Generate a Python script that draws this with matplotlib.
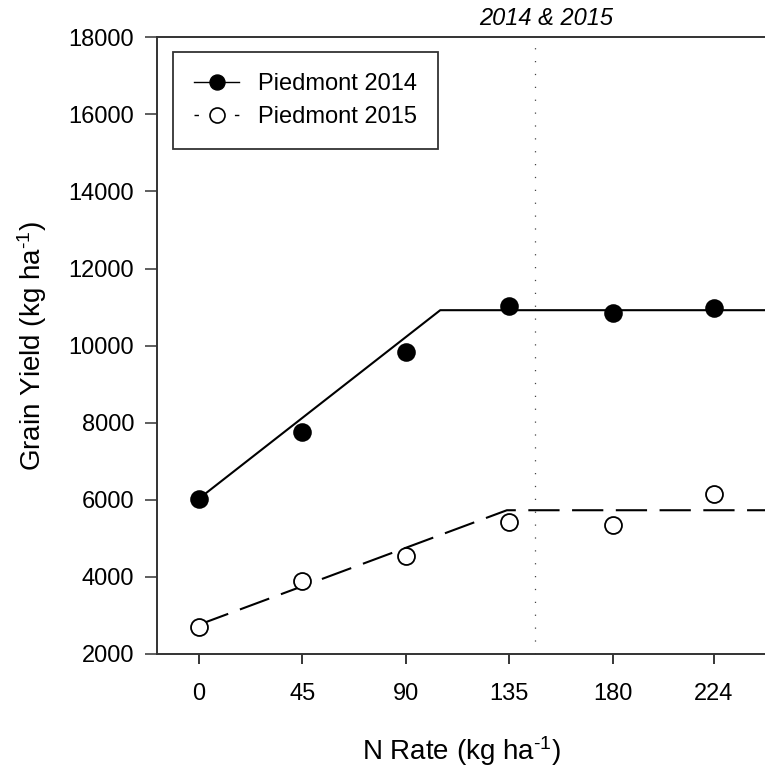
import matplotlib
matplotlib.use("Agg")
import matplotlib.pyplot as plt
from matplotlib.lines import Line2D

plt.rcParams['font.family'] = ['Liberation Sans', 'DejaVu Sans']
plt.rcParams['mathtext.fontset'] = 'custom'
plt.rcParams['mathtext.rm'] = 'Liberation Sans'
plt.rcParams['mathtext.it'] = 'Liberation Sans:italic'

# ---- data ----
n_rate = [0, 45, 90, 135, 180, 224]
x_tick_labels = ['0', '45', '90', '135', '180', '224']
yield_2014 = [6030, 7760, 9830, 11030, 10850, 10970]
yield_2015 = [2690, 3900, 4540, 5420, 5350, 6140]
# linear-plateau fits
fit_2014_x = [0, 105, 250]
fit_2014_y = [6030, 10920, 10920]
fit_2015_x = [0, 134, 250]
fit_2015_y = [2760, 5730, 5730]
optimum_n = 146.4
y_ticks = [2000, 4000, 6000, 8000, 10000, 12000, 14000, 16000, 18000]

W, H = 765, 771
fig = plt.figure(figsize=(W / 100, H / 100), dpi=100)
ax = fig.add_axes([157.3 / W, (H - 654) / H, 1.0 - 157.3 / W, (654 - 37.3) / H])

ax.set_xlim(-18.1, 246.3)
ax.set_ylim(2000, 18000)

# fitted lines
ax.plot(fit_2014_x, fit_2014_y, color='black', lw=1.5, solid_capstyle='butt', zorder=2)
ax.plot(fit_2015_x, fit_2015_y, color='black', lw=1.5, dashes=(15, 6), zorder=2)

# observed points
ax.plot(n_rate, yield_2014, linestyle='none', marker='o', ms=12.2,
        mfc='black', mec='black', mew=1.2, zorder=3)
ax.plot(n_rate, yield_2015, linestyle='none', marker='o', ms=12.2,
        mfc='white', mec='black', mew=1.3, zorder=3)

# optimum N vertical dotted line
ax.axvline(optimum_n, color='#444444', lw=0.9, dashes=(1, 9.3), zorder=1)
ax.text(optimum_n + 4.5, 1.03, '2014 & 2015', transform=ax.get_xaxis_transform(),
        ha='center', va='center', fontsize=17, style='italic', clip_on=False)

ax.set_xticks(n_rate)
ax.set_xticklabels(x_tick_labels)
ax.set_yticks(y_ticks)
ax.tick_params(axis='x', direction='out', length=7.2, width=1.1, pad=14, labelsize=17, colors='black')
ax.tick_params(axis='y', direction='out', length=8.6, width=1.1, pad=8, labelsize=17,
               color='#333333', labelcolor='black')

for s in ['left', 'bottom', 'top']:
    ax.spines[s].set_color('#333333')
    ax.spines[s].set_linewidth(1.4)
ax.spines['right'].set_visible(False)

ax.set_xlabel(r'N Rate (kg ha$^{\text{-1}}$)', fontsize=20, labelpad=21)
ax.set_ylabel(r'Grain Yield (kg ha$^{\text{-1}}$)', fontsize=20, labelpad=14)

# legend
h1 = Line2D([], [], color='black', lw=1.0, marker='o', ms=10.8, mfc='black', mec='black')
h2 = Line2D([], [], color='black', lw=1.0, dashes=(3.2, 25.9), marker='o', ms=10.8,
            mfc='white', mec='black', mew=1.2)
leg = ax.legend([h1, h2], ['Piedmont 2014', 'Piedmont 2015'], loc='upper left',
                bbox_to_anchor=(0.0258, 0.976), borderaxespad=0, fontsize=17,
                frameon=True, fancybox=False, shadow=False, handlelength=1.9,
                handletextpad=0.8, borderpad=0.9, labelspacing=0.45)
leg.get_frame().set_edgecolor('black')
leg.get_frame().set_linewidth(1.3)

fig.savefig('out.png', dpi=100, facecolor='white')
